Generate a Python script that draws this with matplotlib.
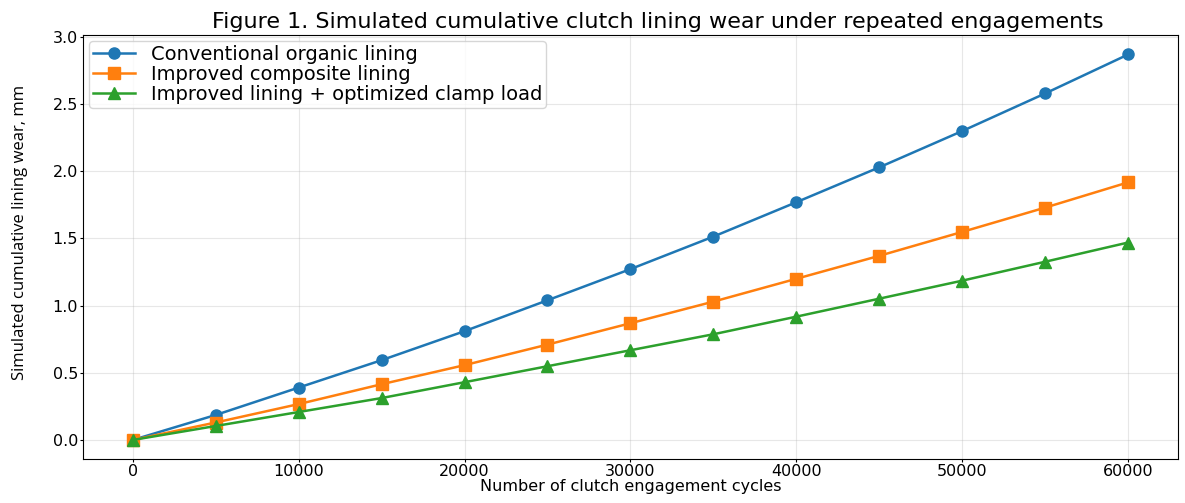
import matplotlib
matplotlib.use('Agg')
import matplotlib.pyplot as plt

plt.rcParams['font.family'] = ['DejaVu Sans']

# Simulated wear data
cycles = [0, 5000, 10000, 15000, 20000, 25000, 30000, 35000, 40000, 45000, 50000, 55000, 60000]
wear_conventional = [0, 0.186, 0.39, 0.594, 0.81, 1.04, 1.272, 1.514, 1.77, 2.03, 2.30, 2.58, 2.87]
wear_composite = [0, 0.13, 0.267, 0.415, 0.557, 0.71, 0.869, 1.03, 1.20, 1.371, 1.549, 1.73, 1.918]
wear_optimized = [0, 0.104, 0.208, 0.312, 0.43, 0.549, 0.668, 0.787, 0.918, 1.052, 1.186, 1.327, 1.47]

labels = ['Conventional organic lining',
          'Improved composite lining',
          'Improved lining + optimized clamp load']

fig = plt.figure(figsize=(11.85, 5.03), dpi=100)
ax = fig.add_axes([0.070, 0.087, 0.924, 0.843])

ax.plot(cycles, wear_conventional, marker='o', markersize=8, linewidth=1.8, label=labels[0])
ax.plot(cycles, wear_composite, marker='s', markersize=8, linewidth=1.8, label=labels[1])
ax.plot(cycles, wear_optimized, marker='^', markersize=8, linewidth=1.8, label=labels[2])

ax.set_title('Figure 1. Simulated cumulative clutch lining wear under repeated engagements',
             fontsize=16, pad=5, x=0.525)
ax.set_xlabel('Number of clutch engagement cycles', fontsize=11.5, labelpad=0)
ax.set_ylabel('Simulated cumulative lining wear, mm', fontsize=12,
              family=['Open Sans', 'DejaVu Sans'])
ax.yaxis.set_label_coords(-0.050, 0.534)
ax.tick_params(labelsize=11.5, length=2.5, pad=1)
ax.grid(True, alpha=0.3)
ax.legend(fontsize=14, loc='upper left', handlelength=2.2, borderpad=0.2,
          labelspacing=0.05, handletextpad=0.8, borderaxespad=0.3)

fig.savefig('out.png', dpi=100)
